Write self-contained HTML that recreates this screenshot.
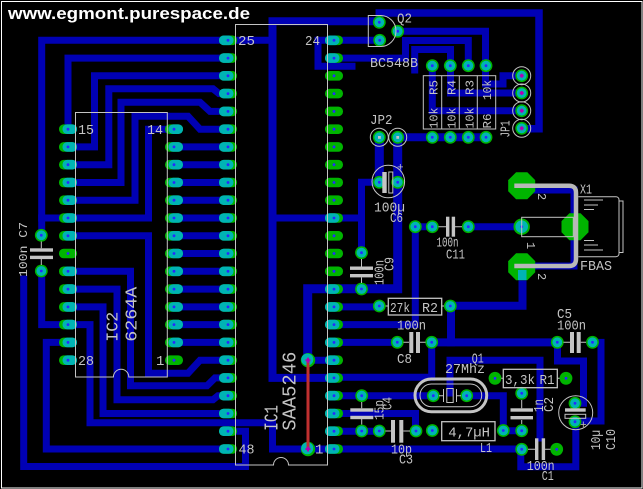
<!DOCTYPE html>
<html><head><meta charset="utf-8"><style>
html,body{margin:0;padding:0;background:#000;}
svg{display:block;}
.s{font-family:"Liberation Mono",monospace;fill:#c4c4c4;font-size:14px;}
.m{font-size:12px;}
</style></head><body>
<svg width="643" height="489" viewBox="0 0 643 489" xmlns="http://www.w3.org/2000/svg">
<defs>
<g id="A"><rect x="-9" y="-4.8" width="18" height="9.6" rx="4.6" fill="#00b400"/><rect x="-9" y="-4.8" width="14.5" height="9.6" rx="4.6" fill="#00b4b4"/><circle r="1.4" fill="#2828ff"/></g>
<g id="B"><rect x="-9" y="-4.8" width="18" height="9.6" rx="4.6" fill="#00b400"/><rect x="-5.5" y="-4.8" width="14.5" height="9.6" rx="4.6" fill="#00b4b4"/><circle r="1.4" fill="#2828ff"/></g>
<g id="G"><rect x="-9" y="-4.8" width="18" height="9.6" rx="4.6" fill="#00b400"/><circle r="1.4" fill="#2828ff"/></g>
<g id="R"><circle r="6.4" fill="#00b400"/><circle r="4.9" fill="#00b4b4"/><circle r="1.4" fill="#2828ff"/></g>
<g id="N"><circle r="6.4" fill="#00b400"/><circle r="1.4" fill="#2828ff"/></g>
</defs>
<rect width="643" height="489" fill="#000"/>
<rect x="1.5" y="1.5" width="640.5" height="486.5" fill="none" stroke="#fff" stroke-width="1"/>

<!-- traces -->
<g fill="none" stroke="#0000b4" stroke-width="7" stroke-linejoin="miter" stroke-linecap="square">
<path d="M228,40.3H41.7V235.3"/>
<path d="M41.7,218H148.5V129.2H174"/>
<path d="M228,58.1H68V129.2"/>
<path d="M228,75.8H94.5V146.9H68"/>
<path d="M228,93.6H219L213,88.8H108.8V164.7H68"/>
<path d="M228,111.4H210L200,102.2H121V182.5H68"/>
<path d="M228,129.2H200L188,116.2H135V200.2H68"/>
<path d="M174,146.9H228M174,164.7H228M174,182.5H228M174,200.2H228M174,218H228M174,235.8H228M174,253.5H228M174,271.3H228M174,289.1H228M174,306.9H228M174,324.6H228M174,342.4H228"/>
<path d="M68,235.8H148.5V373.3H188L200,360.2H228"/>
<path d="M68,271.3H130.5V385.8H207L215,377.9H228"/>
<path d="M68,289.1H117V399.7H213L218,395.7H228"/>
<path d="M68,306.9H103V413.5H228"/>
<path d="M41.7,271V324.6H90V422.7H272.5V449H521.7"/>
<path d="M228,431.2H245.5V466.5H23.7V279"/>
<path d="M228,449H46.3V342.4H68"/>
<path d="M379.3,21.3H272.5V377.9H334" stroke-width="8"/>
<path d="M228,40.3H272.5"/>
<path d="M272.5,218H361.5"/>
<path d="M379.3,182.3H361.5V252.7"/>
<path d="M379.3,137.3V182.3" stroke-width="9"/>
<path d="M397.7,137.3V288.8H307.7V360.2" stroke-width="9"/>
<path d="M307.7,360.2H334"/>
<path d="M397.7,137.3H486" stroke-width="8"/>
<path d="M379.7,40.3H318V66.2H352"/>
<path d="M334,58.1H405.5V40.5H468.3V65.7"/>
<path d="M414.7,70V49.5H450.5V93H521.7"/>
<path d="M397.7,31.3H485.5V84H503V75.7H521.7"/>
<path d="M432.3,65.7V110.7H521.7"/>
<path d="M379.3,22.3V13H539V128.8H521.7" stroke-width="7.5"/>
<path d="M415.3,226.7H432.3"/>
<path d="M415.3,226.7V324.6H334"/>
<path d="M468.3,226.7H521.7"/>
<path d="M535,190H574V266H535"/>
<path d="M334,306.9H379.3"/>
<path d="M450.3,305.8H522.5V268" stroke-width="8"/>
<path d="M451,305.8V342.3" stroke-width="8"/>
<path d="M334,342.4H397.3"/>
<path d="M431.7,342.4H557.3" stroke-width="8"/>
<path d="M431.7,342.4V377.2H334"/>
<path d="M557.5,342.4V361H583.5V403.3"/>
<path d="M592.5,342.4H601V421H575"/>
<path d="M575.8,421.7V466.7H520.8V449"/>
<path d="M334,395.7H433.3"/>
<path d="M466.7,395.7H503.3V430.7H521.7"/>
<path d="M450,393V360.3H540V438"/>
<path d="M334,413.5H415.5V430"/>
<path d="M334,431.2H379.3"/>
</g>

<!-- IC1 pads -->
<g>
<use href="#A" x="228" y="40.3"/><use href="#A" x="228" y="58.1"/><use href="#A" x="228" y="75.8"/><use href="#A" x="228" y="93.6"/>
<use href="#A" x="228" y="111.4"/><use href="#A" x="228" y="129.2"/><use href="#A" x="228" y="146.9"/><use href="#A" x="228" y="164.7"/>
<use href="#A" x="228" y="182.5"/><use href="#A" x="228" y="200.2"/><use href="#A" x="228" y="218"/><use href="#A" x="228" y="235.8"/>
<use href="#A" x="228" y="253.5"/><use href="#A" x="228" y="271.3"/><use href="#A" x="228" y="289.1"/><use href="#A" x="228" y="306.9"/>
<use href="#A" x="228" y="324.6"/><use href="#A" x="228" y="342.4"/><use href="#A" x="228" y="360.2"/><use href="#A" x="228" y="377.9"/>
<use href="#A" x="228" y="395.7"/><use href="#A" x="228" y="413.5"/><use href="#A" x="228" y="431.2"/><use href="#A" x="228" y="449"/>

<use href="#A" x="334" y="40.3"/><use href="#A" x="334" y="58.1"/><use href="#G" x="334" y="75.8"/><use href="#G" x="334" y="93.6"/>
<use href="#G" x="334" y="111.4"/><use href="#G" x="334" y="129.2"/><use href="#G" x="334" y="146.9"/><use href="#G" x="334" y="164.7"/>
<use href="#G" x="334" y="182.5"/><use href="#G" x="334" y="200.2"/><use href="#A" x="334" y="218"/><use href="#G" x="334" y="235.8"/>
<use href="#G" x="334" y="253.5"/><use href="#G" x="334" y="271.3"/><use href="#A" x="334" y="289.1"/><use href="#A" x="334" y="306.9"/>
<use href="#A" x="334" y="324.6"/><use href="#A" x="334" y="342.4"/><use href="#A" x="334" y="360.2"/><use href="#A" x="334" y="377.9"/>
<use href="#A" x="334" y="395.7"/><use href="#A" x="334" y="413.5"/><use href="#A" x="334" y="431.2"/><use href="#A" x="334" y="449"/>

<!-- IC2 pads -->
<use href="#B" x="68" y="129.2"/><use href="#B" x="68" y="146.9"/><use href="#B" x="68" y="164.7"/><use href="#B" x="68" y="182.5"/>
<use href="#B" x="68" y="200.2"/><use href="#B" x="68" y="218"/><use href="#B" x="68" y="235.8"/><use href="#G" x="68" y="253.5"/>
<use href="#B" x="68" y="271.3"/><use href="#B" x="68" y="289.1"/><use href="#B" x="68" y="306.9"/><use href="#B" x="68" y="324.6"/>
<use href="#B" x="68" y="342.4"/><use href="#B" x="68" y="360.2"/>
<use href="#B" x="174" y="129.2"/><use href="#B" x="174" y="146.9"/><use href="#B" x="174" y="164.7"/><use href="#B" x="174" y="182.5"/>
<use href="#B" x="174" y="200.2"/><use href="#B" x="174" y="218"/><use href="#B" x="174" y="235.8"/><use href="#B" x="174" y="253.5"/>
<use href="#B" x="174" y="271.3"/><use href="#B" x="174" y="289.1"/><use href="#B" x="174" y="306.9"/><use href="#B" x="174" y="324.6"/>
<use href="#B" x="174" y="342.4"/><use href="#G" x="174" y="360.2"/>
</g>

<!-- X1 big pads -->
<g fill="#00b400">
<polygon points="516.1,172.2 527.3,172.2 535.2,180.1 535.2,191.3 527.3,199.2 516.1,199.2 508.2,191.3 508.2,180.1"/>
<polygon points="569.4,213.2 580.6,213.2 588.5,221.1 588.5,232.3 580.6,240.2 569.4,240.2 561.5,232.3 561.5,221.1"/>
<polygon points="516.1,253.2 527.3,253.2 535.2,261.1 535.2,272.3 527.3,280.2 516.1,280.2 508.2,272.3 508.2,261.1"/>
</g>
<rect x="518" y="270" width="8.5" height="10" fill="#00b4b4"/>
<circle cx="521.7" cy="226.7" r="8.2" fill="#00b400"/><circle cx="521.7" cy="226.7" r="6.3" fill="#00b4b4"/><circle cx="521.7" cy="226.7" r="1.4" fill="#2828ff"/>

<!-- round pads -->
<g>
<use href="#R" x="41.3" y="235.3"/><use href="#R" x="41.3" y="271"/>
<use href="#R" x="379.3" y="22.3"/><use href="#R" x="397.7" y="31.3"/><use href="#R" x="379.7" y="40.3"/>
<use href="#R" x="432.3" y="65.7"/><use href="#R" x="450.3" y="65.7"/><use href="#R" x="468.3" y="65.7"/><use href="#R" x="486" y="65.7"/>
<use href="#R" x="432.3" y="137.3"/><use href="#R" x="450.3" y="137.3"/><use href="#R" x="468.3" y="137.3"/><use href="#R" x="486" y="137.3"/>
<use href="#R" x="379.3" y="182.3"/><use href="#R" x="397.7" y="182.3"/>
<use href="#R" x="361.5" y="252.7"/><use href="#R" x="361.5" y="289"/>
<use href="#R" x="415.3" y="226.7"/><use href="#R" x="432.3" y="226.7"/><use href="#R" x="468.3" y="226.7"/>
<use href="#R" x="379.3" y="306"/><use href="#R" x="450.3" y="306"/>
<use href="#R" x="397.3" y="342.3"/><use href="#R" x="431.7" y="342.3"/>
<use href="#R" x="557.3" y="342.3"/><use href="#R" x="592.5" y="342.3"/>
<use href="#R" x="361.7" y="395.7"/><use href="#R" x="361.7" y="431"/>
<use href="#R" x="379.3" y="431"/><use href="#R" x="416" y="431"/>
<use href="#R" x="433.3" y="395.7"/><use href="#R" x="466.7" y="395.7"/>
<use href="#R" x="432.3" y="430.5"/><use href="#R" x="503.3" y="430.5"/>
<use href="#N" x="495" y="378.3"/><use href="#N" x="566" y="378.3"/>
<use href="#R" x="521.7" y="393.3"/><use href="#R" x="521.7" y="430.7"/>
<use href="#R" x="575" y="403.3"/><use href="#R" x="575" y="421.7"/>
<use href="#R" x="521.7" y="449.3"/><use href="#N" x="556.7" y="449.3"/>
<use href="#R" x="521.7" y="75.7"/><use href="#R" x="521.7" y="93"/><use href="#R" x="521.7" y="110.7"/><use href="#R" x="521.7" y="128.3"/>
<use href="#R" x="379.3" y="137.3"/><use href="#R" x="397.7" y="137.3"/>
</g>
<circle cx="308" cy="360.2" r="7.2" fill="#00b400"/><circle cx="307.3" cy="359.5" r="6" fill="#00b4b4"/>
<circle cx="308" cy="449" r="7.2" fill="#00b400"/><circle cx="307.3" cy="448.3" r="6" fill="#00b4b4"/>

<!-- silkscreen -->
<g fill="none" stroke="#c4c4c4" stroke-width="1">
<path d="M235.5,24.5H327.5V465H288.5A7.5,7.5 0 0 0 273.5,465H235.5Z"/>
<path d="M75.5,112.5H167.3V377H128.8A7.7,7.7 0 0 0 113.4,377H75.5Z"/>
<path d="M368.3,15.5H380.5A15.5,15.5 0 0 1 380.5,46.5H368.3Z"/>
<rect x="423.3" y="75.7" width="72.4" height="53.3"/>
<path d="M441.7,75.7V129M459.3,75.7V129M477.3,75.7V129"/>
<circle cx="521.7" cy="75.7" r="9"/><circle cx="521.7" cy="93" r="9"/><circle cx="521.7" cy="110.7" r="9"/><circle cx="521.7" cy="128.3" r="9"/>
<circle cx="379.3" cy="137.3" r="9"/><circle cx="397.7" cy="137.3" r="9"/>
<circle cx="388.3" cy="181.5" r="16.3"/>
<rect x="388.8" y="172" width="4" height="21"/>
<circle cx="575.7" cy="412.7" r="17"/>
<rect x="565" y="414.3" width="20.7" height="4"/>
<rect x="388.3" y="298.3" width="53.4" height="16.7" stroke-width="1.3"/>
<rect x="503.3" y="369.3" width="54" height="18.4" stroke-width="1.3"/>
<rect x="441.7" y="421.7" width="53.3" height="19" stroke-width="1.3"/>
<rect x="415" y="379" width="71.7" height="32.7" rx="16.3" stroke-width="3"/>
<rect x="420" y="384" width="61.7" height="22.7" rx="11.3"/>
<rect x="446.8" y="388.5" width="6.4" height="14"/>
<path d="M443.5,389V402M456.5,389V402M439,395.7H443.5M456.5,395.7H461"/>
<path d="M41.3,241.5V248.3M41.3,259V265M361.5,259V266.5M361.5,277.5V283M361.7,402V408.3M361.7,419V424.5M521.7,400V408.3M521.7,420V424M438.5,226.7H446M455,226.7H462M403.5,342.3H409M420,342.3H425.5M563.5,342.3H570M580.7,342.3H586M385.5,431H391M403.3,431H410M528,449.3H535M545,449.3H550.5M501.3,378.3H503.3M557.3,378.3H559.6M385.6,306H388.3M441.7,306H444"/>
<rect x="521.7" y="217.3" width="51.6" height="19.4"/>
<path d="M578.3,196.7H616A3,3 0 0 1 619,199.7V253.7A3,3 0 0 1 616,256.7H578.3M619,201H623V252.5H619"/>
<path d="M584,200H603M584,205H598M584,209.5H594M584,250H603M584,245H598M584,240.5H594"/>
</g>
<path d="M514.3,185.7H569Q576,185.7 576,192.7V259Q576,266 569,266H514.3" fill="none" stroke="#b8b8b8" stroke-width="4.5"/>
<g fill="#c4c4c4">
<rect x="30" y="248.3" width="23" height="3.4"/><rect x="30" y="255.7" width="23" height="3.4"/>
<rect x="350" y="266.5" width="23" height="3.4"/><rect x="350" y="274" width="23" height="3.4"/>
<rect x="350.3" y="408.3" width="23" height="3.4"/><rect x="350.3" y="415.8" width="23" height="3.4"/>
<rect x="510.5" y="408.3" width="22.5" height="3.4"/><rect x="510.5" y="416" width="22.5" height="3.4"/>
<rect x="382.3" y="172" width="4.4" height="21"/>
<rect x="565" y="408.3" width="20.7" height="3.4"/>
<rect x="446" y="216.7" width="3.4" height="20"/><rect x="451.7" y="216.7" width="3.4" height="20"/>
<rect x="409.3" y="332" width="4" height="21"/><rect x="416" y="332" width="4" height="21"/>
<rect x="570" y="332" width="4" height="21"/><rect x="576.7" y="332" width="4" height="21"/>
<rect x="391" y="420" width="4" height="22.7"/><rect x="399.3" y="420" width="4" height="22.7"/>
<rect x="535" y="438.3" width="3.4" height="21.7"/><rect x="541.7" y="438.3" width="3.4" height="21.7"/>
<rect x="378" y="136" width="2.8" height="2.8"/><rect x="396.3" y="136" width="2.8" height="2.8"/>
</g>

<!-- red wire -->
<line x1="308" y1="360.2" x2="308" y2="449" stroke="#c03030" stroke-width="3"/>
<g fill="#b400b4">
<rect x="307" y="357.7" width="2" height="5"/><rect x="305.5" y="359.2" width="5" height="2"/>
<rect x="307" y="446.5" width="2" height="5"/><rect x="305.5" y="448" width="5" height="2"/>
<rect x="520.7" y="73.7" width="2" height="4"/><rect x="519.7" y="74.7" width="4" height="2"/>
<rect x="520.7" y="91" width="2" height="4"/><rect x="519.7" y="92" width="4" height="2"/>
<rect x="520.7" y="108.7" width="2" height="4"/><rect x="519.7" y="109.7" width="4" height="2"/>
<rect x="520.7" y="126.3" width="2" height="4"/><rect x="519.7" y="127.3" width="4" height="2"/>
</g>

<!-- title -->
<text x="8" y="19" font-family="Liberation Sans, sans-serif" font-weight="bold" font-size="17" fill="#fff" textLength="242" lengthAdjust="spacingAndGlyphs">www.egmont.purespace.de</text>

<!-- labels -->
<g class="s">
<text x="238" y="45" textLength="17" lengthAdjust="spacingAndGlyphs">25</text>
<text x="305" y="45" textLength="15" lengthAdjust="spacingAndGlyphs">24</text>
<text x="78" y="134" textLength="16" lengthAdjust="spacingAndGlyphs">15</text>
<text x="147" y="134" textLength="16" lengthAdjust="spacingAndGlyphs">14</text>
<text x="78" y="365" textLength="16" lengthAdjust="spacingAndGlyphs">28</text>
<text x="156" y="365">1</text>
<text x="238.5" y="453.5" textLength="16" lengthAdjust="spacingAndGlyphs">48</text>
<text x="315" y="453.5">1</text>
<text transform="translate(277.3,430.7) rotate(-90)" font-size="19" textLength="25.7" lengthAdjust="spacingAndGlyphs">IC1</text>
<text transform="translate(295.7,430.7) rotate(-90)" font-size="19" textLength="79" lengthAdjust="spacingAndGlyphs">SAA5246</text>
<text transform="translate(117.3,341.7) rotate(-90)" font-size="17" textLength="30" lengthAdjust="spacingAndGlyphs">IC2</text>
<text transform="translate(136.7,341.7) rotate(-90)" font-size="17" textLength="55" lengthAdjust="spacingAndGlyphs">6264A</text>
<text class="m" transform="translate(27,277) rotate(-90)" textLength="55" lengthAdjust="spacingAndGlyphs">100n C7</text>
<text x="397" y="22.7" textLength="15" lengthAdjust="spacingAndGlyphs">Q2</text>
<text x="370" y="67" textLength="48" lengthAdjust="spacingAndGlyphs">BC548B</text>
<text class="m" transform="translate(437.5,95) rotate(-90)" textLength="15" lengthAdjust="spacingAndGlyphs">R5</text>
<text class="m" transform="translate(455.5,95) rotate(-90)" textLength="15" lengthAdjust="spacingAndGlyphs">R4</text>
<text class="m" transform="translate(473.5,95) rotate(-90)" textLength="15" lengthAdjust="spacingAndGlyphs">R3</text>
<text class="m" transform="translate(491,100) rotate(-90)" textLength="20" lengthAdjust="spacingAndGlyphs">10k</text>
<text class="m" transform="translate(437.5,128.5) rotate(-90)" textLength="21" lengthAdjust="spacingAndGlyphs">10k</text>
<text class="m" transform="translate(455.5,128.5) rotate(-90)" textLength="21" lengthAdjust="spacingAndGlyphs">10k</text>
<text class="m" transform="translate(473.5,128.5) rotate(-90)" textLength="21" lengthAdjust="spacingAndGlyphs">10k</text>
<text class="m" transform="translate(491,128.5) rotate(-90)" textLength="15" lengthAdjust="spacingAndGlyphs">R6</text>
<text transform="translate(509.5,137.5) rotate(-90)" textLength="17" lengthAdjust="spacingAndGlyphs">JP1</text>
<text x="370" y="124" textLength="22.5" lengthAdjust="spacingAndGlyphs">JP2</text>
<text x="397" y="170.5" font-size="11">+</text>
<text x="374" y="211.7" textLength="31" lengthAdjust="spacingAndGlyphs">100µ</text>
<text x="390" y="222" textLength="13" lengthAdjust="spacingAndGlyphs">C6</text>
<text transform="translate(383.5,285) rotate(-90)" textLength="25" lengthAdjust="spacingAndGlyphs">100n</text>
<text transform="translate(393.5,271) rotate(-90)" textLength="14" lengthAdjust="spacingAndGlyphs">C9</text>
<text x="436.5" y="246.7" textLength="22" lengthAdjust="spacingAndGlyphs">100n</text>
<text x="446" y="258.3" textLength="19" lengthAdjust="spacingAndGlyphs">C11</text>
<text x="580" y="193.3" textLength="12" lengthAdjust="spacingAndGlyphs">X1</text>
<text x="580" y="270" textLength="32" lengthAdjust="spacingAndGlyphs">FBAS</text>
<text class="m" transform="translate(538,193) rotate(90)">2</text>
<text class="m" transform="translate(538,273) rotate(90)">2</text>
<text class="m" transform="translate(527,242) rotate(90)">1</text>
<text x="390" y="312" textLength="20" lengthAdjust="spacingAndGlyphs">27k</text>
<text x="422" y="312" textLength="16" lengthAdjust="spacingAndGlyphs">R2</text>
<text x="397" y="329.3" textLength="29" lengthAdjust="spacingAndGlyphs">100n</text>
<text x="397" y="363" textLength="15" lengthAdjust="spacingAndGlyphs">C8</text>
<text x="557" y="318" textLength="15" lengthAdjust="spacingAndGlyphs">C5</text>
<text x="557" y="329.3" textLength="29" lengthAdjust="spacingAndGlyphs">100n</text>
<text x="471.7" y="362.7" textLength="12" lengthAdjust="spacingAndGlyphs">Q1</text>
<text x="445" y="373" textLength="40" lengthAdjust="spacingAndGlyphs">27Mhz</text>
<text x="505" y="384" textLength="30" lengthAdjust="spacingAndGlyphs">3,3k</text>
<text x="539.5" y="384" textLength="15" lengthAdjust="spacingAndGlyphs">R1</text>
<text transform="translate(383.3,420) rotate(-90)" textLength="20" lengthAdjust="spacingAndGlyphs">15p</text>
<text transform="translate(391.7,410) rotate(-90)" textLength="13" lengthAdjust="spacingAndGlyphs">C4</text>
<text transform="translate(543,412) rotate(-90)" textLength="13" lengthAdjust="spacingAndGlyphs">1n</text>
<text transform="translate(553,412) rotate(-90)" textLength="15" lengthAdjust="spacingAndGlyphs">C2</text>
<text x="580" y="428" font-size="11">+</text>
<text transform="translate(600,450) rotate(-90)" textLength="20" lengthAdjust="spacingAndGlyphs">10µ</text>
<text transform="translate(615,450) rotate(-90)" textLength="21" lengthAdjust="spacingAndGlyphs">C10</text>
<text x="448.3" y="436.7" textLength="41.7" lengthAdjust="spacingAndGlyphs">4,7µH</text>
<text x="480" y="452" textLength="12" lengthAdjust="spacingAndGlyphs">L1</text>
<text x="391" y="453.3" textLength="21" lengthAdjust="spacingAndGlyphs">10p</text>
<text x="399" y="463.3" textLength="14" lengthAdjust="spacingAndGlyphs">C3</text>
<text x="526.7" y="470" textLength="28" lengthAdjust="spacingAndGlyphs">100n</text>
<text x="541.7" y="480" textLength="12" lengthAdjust="spacingAndGlyphs">C1</text>
</g>
</svg>
</body></html>
